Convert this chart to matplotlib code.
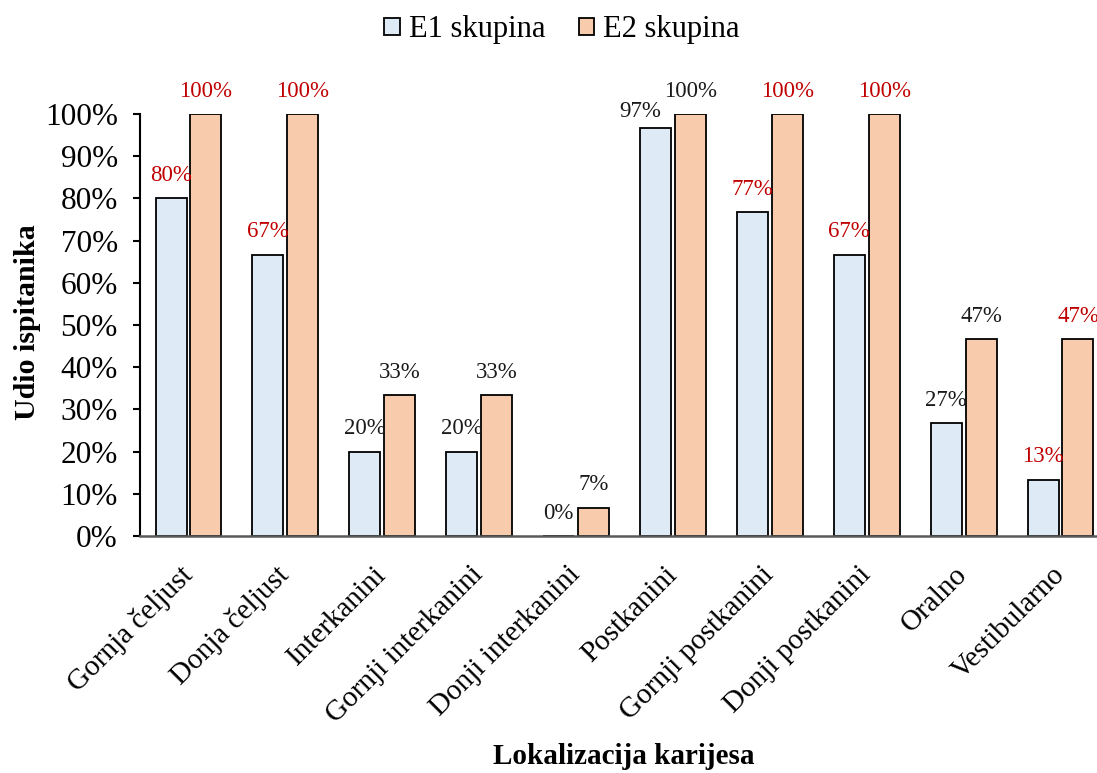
import matplotlib
matplotlib.use("Agg")
import matplotlib.pyplot as plt
import numpy as np

plt.rcParams["font.family"] = ["Liberation Serif", "DejaVu Serif"]

categories = [
    "Gornja čeljust", "Donja čeljust", "Interkanini", "Gornji interkanini",
    "Donji interkanini", "Postkanini", "Gornji postkanini", "Donji postkanini",
    "Oralno", "Vestibularno",
]
e1 = [0.80, 0.667, 0.20, 0.20, 0.0, 0.967, 0.767, 0.667, 0.267, 0.133]
e2 = [1.00, 1.00, 0.333, 0.333, 0.067, 1.00, 1.00, 1.00, 0.467, 0.467]
# which value labels are drawn in red
e1_red = [True, True, False, False, False, False, True, True, False, True]
e2_red = [True, True, False, False, False, False, True, True, False, True]

RED = "#C00000"
fig = plt.figure(figsize=(10.97, 7.73), dpi=100)
ax = fig.add_axes([140 / 1097, 1 - 536 / 773, 969 / 1097, (536 - 114) / 773])

x = np.arange(len(categories))
w = 0.32
off = 0.18
b1 = ax.bar(x - off, e1, w, color="#DEEAF6", edgecolor="black", linewidth=1.3,
            label="E1 skupina")
b2 = ax.bar(x + off, e2, w, color="#F8CBAD", edgecolor="black", linewidth=1.3,
            label="E2 skupina")

for i, (bars, vals, reds) in enumerate([(b1, e1, e1_red), (b2, e2, e2_red)]):
    for j, (bar, v, r) in enumerate(zip(bars, vals, reds)):
        dx, dy = 0, 16.5
        if i == 0 and v > 0.9:
            # label nudged left/down so it clears the neighbour's label
            dx, dy = -11, 11.5
        ax.annotate(f"{v * 100:.0f}%", (bar.get_x() + bar.get_width() / 2, v),
                    xytext=(dx, dy), textcoords="offset points",
                    ha="center", va="center", fontsize=16.5,
                    color=RED if r else "#1a1a1a")

ax.set_xlim(-0.5, len(categories) - 0.5)
ax.set_ylim(0, 1.0)
ax.set_yticks(np.arange(0, 1.01, 0.1))
ax.set_yticklabels([f"{t}%" for t in range(0, 101, 10)], fontsize=22.5)
ax.tick_params(axis="y", length=5, width=1.5, pad=11)
ax.set_xticks(x)
ax.set_xticklabels(categories, rotation=45, ha="right", va="center",
                   rotation_mode="anchor", fontsize=21)
ax.tick_params(axis="x", length=0, pad=25)

for s in ["top", "right"]:
    ax.spines[s].set_visible(False)
ax.spines["left"].set_linewidth(1.5)
ax.spines["bottom"].set_linewidth(1.8)
ax.spines["bottom"].set_color("#595959")

fig.text(28 / 1097, 1 - 322 / 773, "Udio ispitanika", rotation=90,
         ha="center", va="center", fontsize=21.5, fontweight="bold")
fig.text(624 / 1097, 1 - 757 / 773, "Lokalizacija karijesa",
         ha="center", va="center", fontsize=21, fontweight="bold")

fig.legend(handles=[b1, b2], loc="center", bbox_to_anchor=(562 / 1097, 1 - 30 / 773),
           ncol=2, frameon=False, fontsize=22, handlelength=0.5, handleheight=0.5,
           handletextpad=0.3, columnspacing=1.1)

fig.savefig("out.png", dpi=100)
